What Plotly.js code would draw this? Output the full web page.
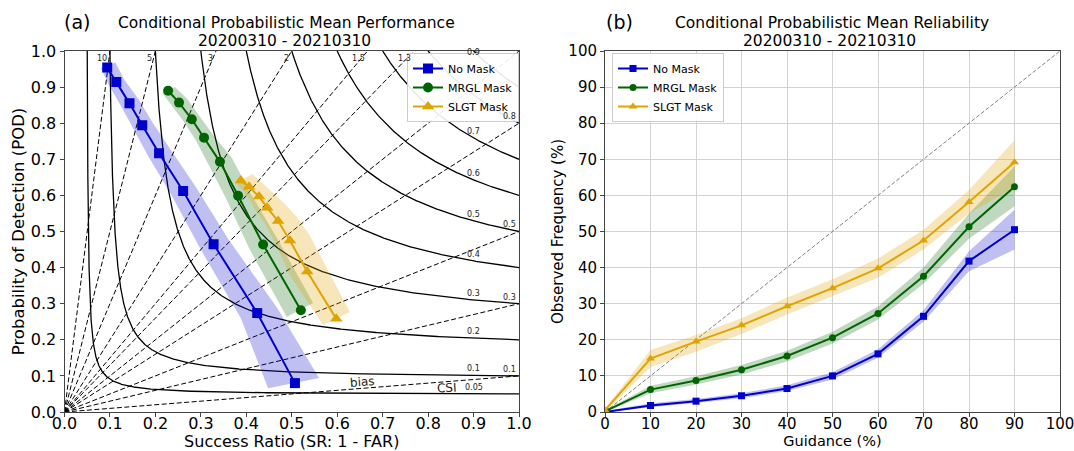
<!DOCTYPE html>
<html><head><meta charset="utf-8">
<script src="https://cdn.plot.ly/plotly-3.0.1.min.js"></script>
<style>html,body{margin:0;padding:0;background:#fff}#chart{width:1074px;height:451px}</style>
</head><body><div id="chart"></div>
<script>
// ---------- Performance diagram background ----------
const csiLevels = [0.05, 0.1, 0.2, 0.3, 0.4, 0.5, 0.6, 0.7, 0.8, 0.9];
const csiLabelLevels = [0.05, 0.1, 0.2, 0.3, 0.4, 0.5, 0.6, 0.7, 0.9]; // 0.8 label sits under the legend
const biasLevels = [0.1, 0.3, 0.5, 0.8, 1, 1.3, 1.5, 2, 3, 5, 10];
const csiLabelSR = 0.9;

// ---------- (a) performance: success ratio / POD ----------
const noMaskSR    = [0.094, 0.114, 0.143, 0.171, 0.208, 0.261, 0.328, 0.424, 0.507];
const noMaskPOD   = [0.954, 0.914, 0.855, 0.794, 0.717, 0.612, 0.465, 0.274, 0.080];
const noMaskSRlo  = [0.080, 0.096, 0.124, 0.151, 0.184, 0.234, 0.298, 0.388, 0.448];
const noMaskPODlo = [0.953, 0.909, 0.848, 0.787, 0.709, 0.604, 0.454, 0.260, 0.066];
const noMaskSRhi  = [0.112, 0.131, 0.164, 0.193, 0.234, 0.289, 0.362, 0.468, 0.560];
const noMaskPODhi = [0.968, 0.922, 0.864, 0.803, 0.726, 0.623, 0.476, 0.288, 0.094];

const mrglSR    = [0.228, 0.252, 0.280, 0.307, 0.342, 0.382, 0.437, 0.520];
const mrglPOD   = [0.890, 0.857, 0.811, 0.760, 0.693, 0.599, 0.464, 0.282];
const mrglSRlo  = [0.215, 0.236, 0.263, 0.289, 0.316, 0.355, 0.406, 0.489];
const mrglPODlo = [0.884, 0.850, 0.803, 0.753, 0.687, 0.593, 0.454, 0.263];
const mrglSRhi  = [0.243, 0.270, 0.298, 0.327, 0.368, 0.408, 0.470, 0.547];
const mrglPODhi = [0.900, 0.867, 0.817, 0.767, 0.704, 0.609, 0.476, 0.302];

const slgtSR    = [0.388, 0.406, 0.428, 0.446, 0.470, 0.496, 0.534, 0.598];
const slgtPOD   = [0.641, 0.624, 0.597, 0.566, 0.529, 0.475, 0.389, 0.258];
const slgtSRlo  = [0.377, 0.391, 0.408, 0.421, 0.443, 0.465, 0.498, 0.569];
const slgtPODlo = [0.634, 0.615, 0.587, 0.557, 0.518, 0.463, 0.374, 0.241];
const slgtSRhi  = [0.413, 0.426, 0.452, 0.483, 0.511, 0.540, 0.575, 0.628];
const slgtPODhi = [0.659, 0.643, 0.615, 0.579, 0.540, 0.488, 0.402, 0.277];

// ---------- (b) reliability ----------
const guidance  = [0, 10, 20, 30, 40, 50, 60, 70, 80, 90];
const noMaskObs = [0, 1.8, 3.0, 4.5, 6.5, 10.0, 16.1, 26.5, 41.8, 50.5];
const noMaskLo  = [0, 1.3, 2.4, 3.8, 5.8, 9.0, 15.0, 25.0, 39.0, 45.0];
const noMaskHi  = [0.3, 2.4, 3.6, 5.2, 7.4, 11.0, 17.4, 28.2, 44.5, 56.0];
const mrglObs   = [0.2, 6.2, 8.7, 11.7, 15.5, 20.6, 27.3, 37.6, 51.3, 62.4];
const mrglLo    = [0, 5.2, 7.6, 10.4, 14.0, 19.0, 25.6, 35.5, 48.0, 57.0];
const mrglHi    = [0.5, 7.3, 9.9, 13.0, 17.0, 22.2, 29.2, 40.0, 55.0, 68.0];
const slgtObs   = [0.5, 14.8, 19.5, 24.0, 29.3, 34.3, 39.8, 47.5, 58.2, 69.2];
const slgtLo    = [0, 12.5, 16.7, 21.6, 27.0, 32.0, 37.2, 45.0, 55.0, 62.4];
const slgtHi    = [1.0, 17.2, 21.3, 26.0, 31.7, 36.8, 42.5, 50.5, 61.5, 75.3];
const diagLine  = [0, 100];

const seriesNames = ['No Mask', 'MRGL Mask', 'SLGT Mask'];
const colors = ['#0000CD', '#006400', '#E0A400'];
const bandColors = ['rgba(0,0,205,0.25)', 'rgba(0,100,0,0.25)', 'rgba(224,164,0,0.27)'];
const symbols = ['square', 'circle', 'triangle-up'];

const FONT = 'DejaVu Sans, Verdana, sans-serif';
const W = 1074, H = 451;
const xdomL = [64.5 / W, 519 / W], xdomR = [605 / W, 1060 / W], ydom = [1 - 412 / H, 1 - 51 / H];

const traces = [];
// bias lines (dashed, from origin)
biasLevels.forEach(b => {
  traces.push({x: [0, Math.min(1, 1 / b)], y: [0, Math.min(1, b)], mode: 'lines',
    line: {color: 'black', width: 1, dash: '5px,2.5px'}, xaxis: 'x', yaxis: 'y',
    showlegend: false, hoverinfo: 'skip'});
});
// CSI contours (solid): 1/SR + 1/POD - 1 = 1/CSI
csiLevels.forEach(c => {
  const K = 1 / c - 1, xs = [], ys = [], N = 800;
  for (let i = 0; i <= N; i++) {
    const s = i / N;
    xs.push(1 / (1 + K * s));
    ys.push(1 / (1 + K * (1 - s)));
  }
  traces.push({x: xs, y: ys, mode: 'lines', line: {color: 'black', width: 1.3},
    xaxis: 'x', yaxis: 'y', showlegend: false, hoverinfo: 'skip'});
});

const leftSets = [
  [noMaskSR, noMaskPOD, noMaskSRlo, noMaskPODlo, noMaskSRhi, noMaskPODhi],
  [mrglSR, mrglPOD, mrglSRlo, mrglPODlo, mrglSRhi, mrglPODhi],
  [slgtSR, slgtPOD, slgtSRlo, slgtPODlo, slgtSRhi, slgtPODhi]
];
leftSets.forEach((s, i) => {
  traces.push({x: s[2].concat(s[4].slice().reverse()), y: s[3].concat(s[5].slice().reverse()),
    mode: 'lines', fill: 'toself', fillcolor: bandColors[i], line: {width: 0},
    xaxis: 'x', yaxis: 'y', showlegend: false, hoverinfo: 'skip'});
});
leftSets.forEach((s, i) => {
  traces.push({x: s[0], y: s[1], name: seriesNames[i], mode: 'lines+markers',
    line: {color: colors[i], width: 2},
    marker: {symbol: symbols[i], size: i === 2 ? 11 : 10, color: colors[i]},
    xaxis: 'x', yaxis: 'y', legend: 'legend'});
});

const rightSets = [
  [noMaskObs, noMaskLo, noMaskHi],
  [mrglObs, mrglLo, mrglHi],
  [slgtObs, slgtLo, slgtHi]
];
traces.push({x: diagLine, y: diagLine, mode: 'lines', line: {color: 'gray', width: 1, dash: '4px,2px'},
  xaxis: 'x2', yaxis: 'y2', showlegend: false, hoverinfo: 'skip'});
rightSets.forEach((s, i) => {
  traces.push({x: guidance.concat(guidance.slice().reverse()), y: s[1].concat(s[2].slice().reverse()),
    mode: 'lines', fill: 'toself', fillcolor: bandColors[i], line: {width: 0},
    xaxis: 'x2', yaxis: 'y2', showlegend: false, hoverinfo: 'skip'});
});
rightSets.forEach((s, i) => {
  traces.push({x: guidance, y: s[0], name: seriesNames[i], mode: 'lines+markers',
    line: {color: colors[i], width: 2},
    marker: {symbol: symbols[i], size: i === 2 ? 8 : 7, color: colors[i]},
    xaxis: 'x2', yaxis: 'y2', legend: 'legend2'});
});

const annotations = [];
const lab = (x, y, text, opts) => Object.assign({x, y, text, showarrow: false, xref: 'x', yref: 'y',
  font: {family: FONT, size: 8, color: '#222'}}, opts || {});
// CSI labels
csiLabelLevels.forEach(c => {
  const p = 1 / (1 / c + 1 - 1 / csiLabelSR);
  annotations.push(lab(csiLabelSR, p, String(c), {yanchor: 'bottom', yshift: p > 0.98 ? -8 : 0}));
});
// bias labels
biasLevels.forEach(b => {
  if (b > 1) annotations.push(lab(1 / b, 1, String(b), {xanchor: 'right', yanchor: 'top', xshift: -1, yshift: -1}));
  else if (b < 1) annotations.push(lab(1, b, String(b), {xanchor: 'right', yanchor: 'bottom', xshift: -1, yshift: 0}));
});
annotations.push(lab(0.655, 0.083, 'bias', {font: {family: FONT, size: 12, color: '#222'}, textangle: -4.5}));
annotations.push(lab(0.842, 0.066, 'CSI', {font: {family: FONT, size: 12, color: '#222'}, textangle: -3}));

const paperText = (x, y, text, size) => ({x: x / W, y: 1 - y / H, xref: 'paper', yref: 'paper', text,
  showarrow: false, xanchor: 'center', yanchor: 'middle', font: {family: FONT, size, color: '#000'}});
annotations.push(paperText(77, 22, '(a)', 19));
annotations.push(paperText(286, 22.5, 'Conditional Probabilistic Mean Performance', 15.5));
annotations.push(paperText(284, 40.5, '20200310 - 20210310', 15.5));
annotations.push(paperText(619, 22, '(b)', 19));
annotations.push(paperText(832, 22.5, 'Conditional Probabilistic Mean Reliability', 15.5));
annotations.push(paperText(829, 40.5, '20200310 - 20210310', 15.5));

const axBase = {showline: true, mirror: true, linecolor: '#444', linewidth: 1, ticks: 'outside',
  ticklen: 4, tickcolor: '#444', zeroline: false, color: '#000', ticklabeloverflow: 'allow'};

const legendBase = {xanchor: 'left', yanchor: 'top', bgcolor: 'rgba(255,255,255,0.9)',
  bordercolor: '#ccc', borderwidth: 1, font: {family: FONT, size: 11}, itemwidth: 30, tracegroupgap: 0};

const layout = {
  width: W, height: H, margin: {l: 0, r: 0, t: 0, b: 0}, paper_bgcolor: '#fff', plot_bgcolor: '#fff',
  font: {family: FONT, color: '#000'},
  xaxis: Object.assign({}, axBase, {domain: xdomL, range: [0, 1], dtick: 0.1, tick0: 0, tickformat: '.1f',
    showgrid: false, tickfont: {size: 16}, anchor: 'y', ticklabelstandoff: -7,
    title: {text: 'Success Ratio (SR: 1 - FAR)', font: {size: 16}, standoff: 2}}),
  yaxis: Object.assign({}, axBase, {domain: ydom, range: [0, 1], dtick: 0.1, tick0: 0, tickformat: '.1f',
    showgrid: false, tickfont: {size: 16}, anchor: 'x',
    title: {text: 'Probability of Detection (POD)', font: {size: 16.5}, standoff: 2}}),
  xaxis2: Object.assign({}, axBase, {domain: xdomR, range: [0, 100], dtick: 10, tick0: 0,
    showgrid: true, gridcolor: '#d3d3d3', gridwidth: 1, tickfont: {size: 15}, anchor: 'y2', ticklabelstandoff: -6,
    title: {text: 'Guidance (%)', font: {size: 14.5}, standoff: 2}}),
  yaxis2: Object.assign({}, axBase, {domain: ydom, range: [0, 100], dtick: 10, tick0: 0,
    showgrid: true, gridcolor: '#d3d3d3', gridwidth: 1, tickfont: {size: 15}, anchor: 'x2',
    title: {text: 'Observed Frequency (%)', font: {size: 15}, standoff: 1}}),
  legend: Object.assign({x: 407 / W, y: 1 - 53 / H}, legendBase),
  legend2: Object.assign({x: 612 / W, y: 1 - 53 / H}, legendBase),
  annotations: annotations,
  showlegend: true
};

Plotly.newPlot('chart', traces, layout, {staticPlot: true, displayModeBar: false});
</script>
</body></html>
